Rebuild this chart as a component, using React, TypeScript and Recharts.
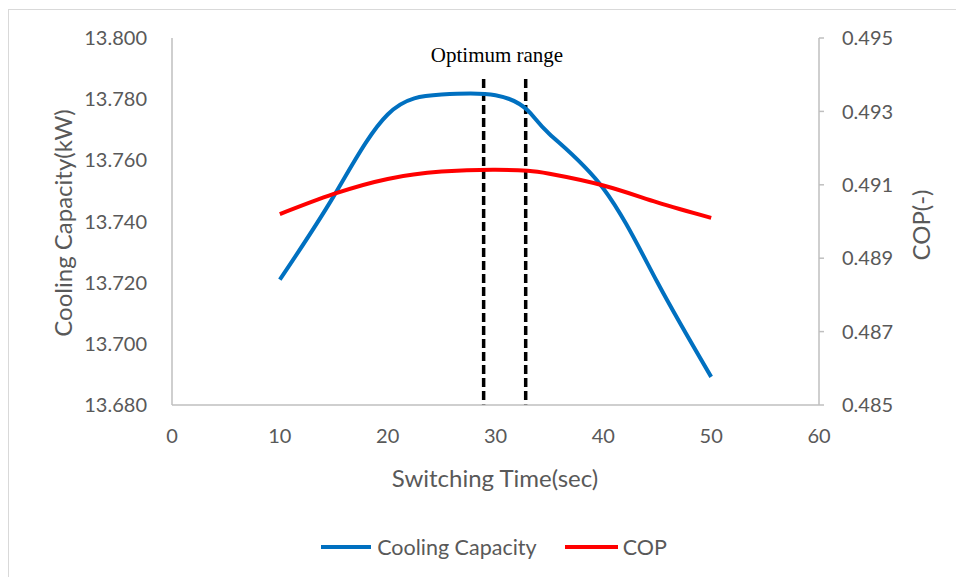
import { ComposedChart, Line, XAxis, YAxis, ReferenceLine } from 'recharts'

const switchingTime = [10, 15, 20, 25, 30, 33, 35, 40, 45, 50]
const coolingCapacity = [13.721, 13.7483, 13.775, 13.7815, 13.7813, 13.7763, 13.7686, 13.7508, 13.7202, 13.6892]
const cop = [0.4902, 0.49075, 0.49116, 0.49136, 0.49141, 0.49138, 0.4913, 0.49098, 0.49052, 0.4901]

const xTicks = [0, 10, 20, 30, 40, 50, 60]
const leftTicks = [13.68, 13.7, 13.72, 13.74, 13.76, 13.78, 13.8]
const rightTicks = [0.485, 0.487, 0.489, 0.491, 0.493, 0.495]
const optimumRange = [28.9, 32.8]
const optimumTop = 13.7866

const chartData = switchingTime.map((t, i) => ({
  time: t,
  cooling: coolingCapacity[i],
  cop: cop[i],
}))

const font = 'Lato, "Open Sans", sans-serif'
const tickStyle = { fontSize: 20, fill: '#595959', fontFamily: font }
const axisGray = '#bfbfbf'

export default function App() {
  return (
    <div style={{ position: 'absolute', left: 0, top: 0, width: 956, height: 577, overflow: 'hidden', background: '#fff' }}>
      <div
        style={{
          position: 'absolute',
          left: 8,
          top: 9,
          width: 1000,
          height: 1000,
          border: '1px solid #d9d9d9',
        }}
      />
      <ComposedChart
        width={956}
        height={577}
        data={chartData}
        margin={{ top: 38, right: 0, left: 0, bottom: 0 }}
      >
        <XAxis
          type="number"
          dataKey="time"
          domain={[0, 60]}
          ticks={xTicks}
          height={172}
          tick={tickStyle}
          tickLine={false}
          tickSize={0}
          tickMargin={24}
          axisLine={{ stroke: axisGray, strokeWidth: 1.5 }}
        />
        <YAxis
          yAxisId="left"
          domain={[13.68, 13.8]}
          ticks={leftTicks}
          width={172}
          tick={tickStyle}
          tickLine={false}
          tickSize={0}
          tickMargin={25}
          tickFormatter={(v) => v.toFixed(3)}
          axisLine={{ stroke: axisGray, strokeWidth: 1.5 }}
        />
        <YAxis
          yAxisId="right"
          orientation="right"
          domain={[0.485, 0.495]}
          ticks={rightTicks}
          width={137}
          tick={tickStyle}
          tickLine={{ stroke: axisGray, strokeWidth: 1.5 }}
          tickSize={5}
          tickMargin={18}
          tickFormatter={(v) => v.toFixed(3)}
          axisLine={{ stroke: axisGray, strokeWidth: 1.5 }}
        />
        {optimumRange.map((x) => (
          <ReferenceLine
            key={x}
            yAxisId="left"
            segment={[
              { x, y: optimumTop },
              { x, y: 13.68 },
            ]}
            stroke="#000"
            strokeWidth={3.5}
            strokeDasharray="9 4"
          />
        ))}
        <Line
          yAxisId="left"
          type="natural"
          dataKey="cooling"
          stroke="#0070C0"
          strokeWidth={4}
          dot={false}
          isAnimationActive={false}
        />
        <Line
          yAxisId="right"
          type="natural"
          dataKey="cop"
          stroke="#FF0000"
          strokeWidth={4}
          dot={false}
          isAnimationActive={false}
        />
      </ComposedChart>

      <div
        style={{
          position: 'absolute',
          left: 497,
          top: 55,
          transform: 'translate(-50%, -50%)',
          fontFamily: '"Liberation Serif", "Times New Roman", serif',
          fontSize: 21,
          color: '#000',
          whiteSpace: 'nowrap',
        }}
      >
        Optimum range
      </div>
      <div
        style={{
          position: 'absolute',
          left: 62,
          top: 223,
          transform: 'translate(-50%, -50%) rotate(-90deg)',
          fontFamily: font,
          fontSize: 24,
          color: '#595959',
          whiteSpace: 'nowrap',
        }}
      >
        Cooling Capacity(kW)
      </div>
      <div
        style={{
          position: 'absolute',
          left: 920,
          top: 225,
          transform: 'translate(-50%, -50%) rotate(-90deg)',
          fontFamily: font,
          fontSize: 24,
          color: '#595959',
          whiteSpace: 'nowrap',
        }}
      >
        COP(-)
      </div>
      <div
        style={{
          position: 'absolute',
          left: 495,
          top: 477,
          transform: 'translate(-50%, -50%)',
          fontFamily: font,
          fontSize: 24,
          color: '#595959',
          whiteSpace: 'nowrap',
        }}
      >
        Switching Time(sec)
      </div>

      <div
        style={{
          position: 'absolute',
          left: 16,
          top: 547,
          width: 956,
          transform: 'translateY(-50%)',
          display: 'flex',
          justifyContent: 'center',
          alignItems: 'center',
          fontFamily: font,
          fontSize: 21.5,
          color: '#595959',
        }}
      >
        <div style={{ display: 'flex', alignItems: 'center', marginRight: 28 }}>
          <div style={{ width: 50, height: 4, background: '#0070C0', marginRight: 6 }} />
          <span>Cooling Capacity</span>
        </div>
        <div style={{ display: 'flex', alignItems: 'center' }}>
          <div style={{ width: 53, height: 4, background: '#FF0000', marginRight: 5 }} />
          <span>COP</span>
        </div>
      </div>
    </div>
  )
}
